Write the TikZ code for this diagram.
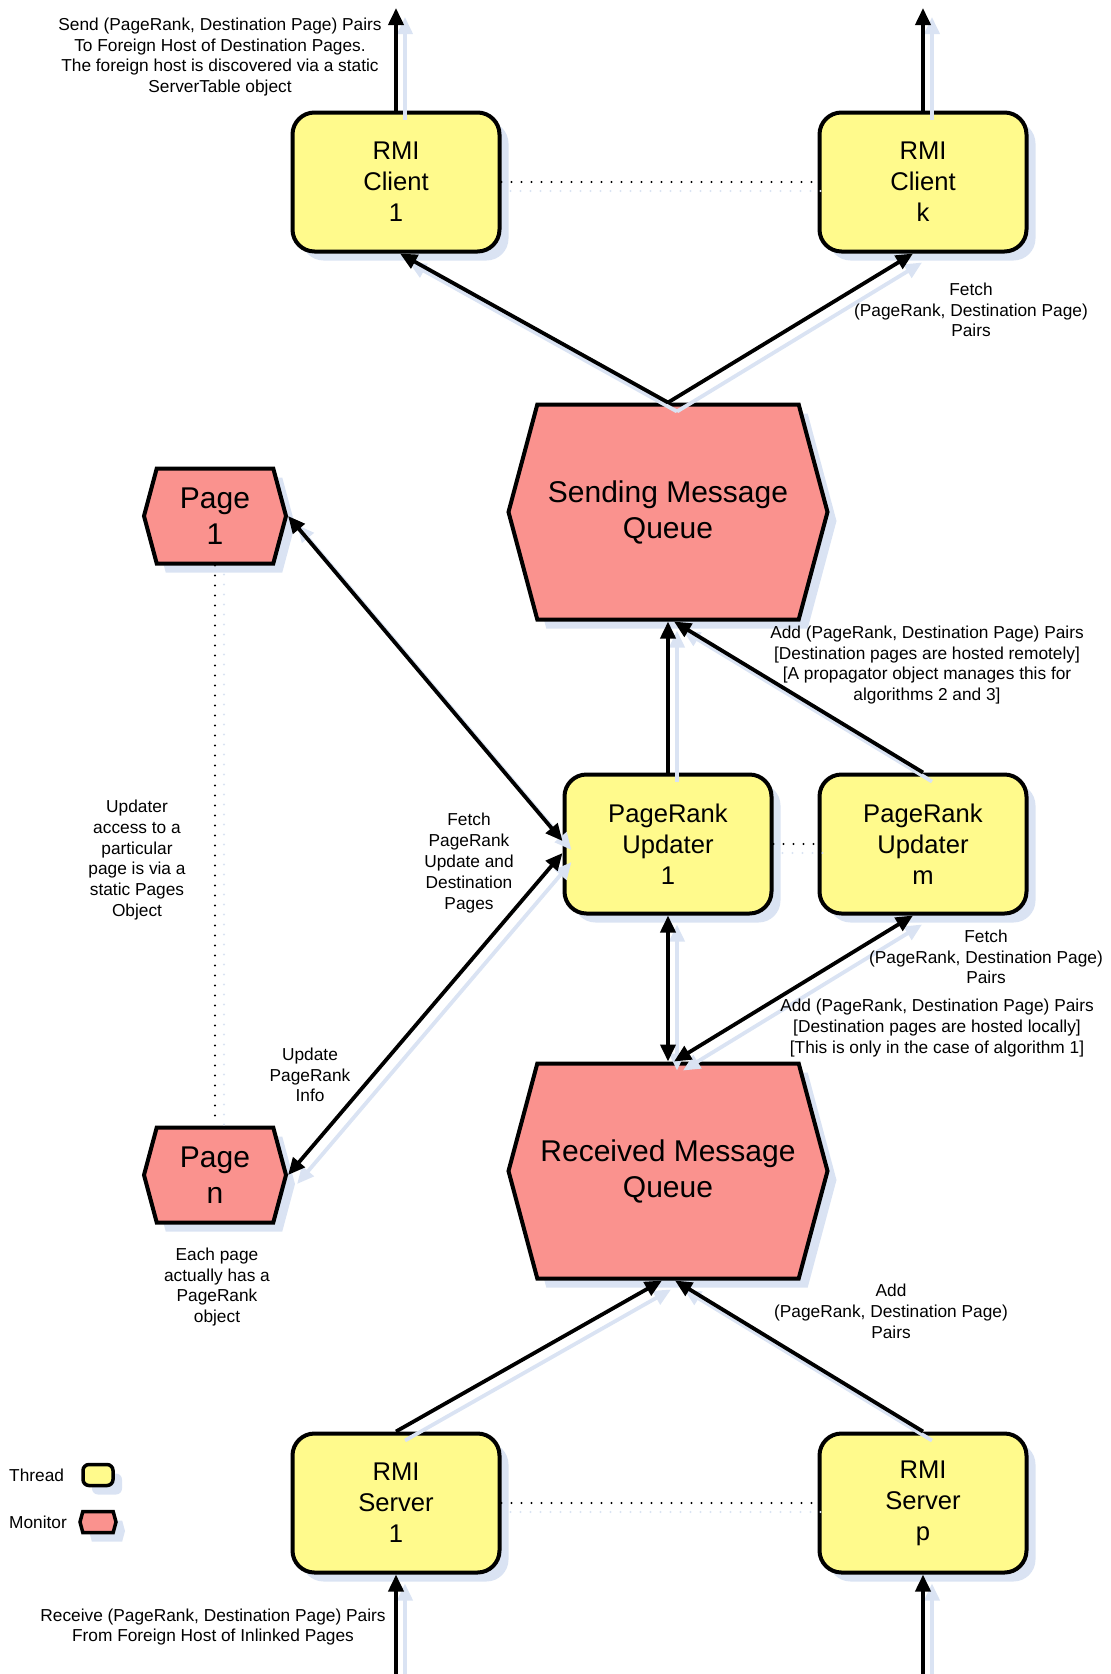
\documentclass[tikz,border=0pt]{standalone}
\usepackage{fontspec}
\setmainfont{Liberation Sans}
\usepackage{tikz}
\usetikzlibrary{positioning,shapes.symbols,shadows,arrows.meta}

\definecolor{threadfill}{RGB}{255,250,140}
\definecolor{monitorfill}{RGB}{250,146,142}
\definecolor{shadowblue}{RGB}{218,227,243}

\newcommand{\lblfont}{\fontsize{17.3}{20.8}\selectfont}
\newcommand{\boxfont}{\fontsize{25.6}{31}\selectfont}
\newcommand{\queuefont}{\fontsize{30}{36}\selectfont}

\tikzset{
    shadowed/.style={drop shadow={shadow xshift=9pt, shadow yshift=-9pt, fill=shadowblue, opacity=1}},
    thread/.style={draw, line width=4pt, rounded corners=22pt, fill=threadfill, shadowed,
        minimum width=207pt, minimum height=139pt, align=center, font=\boxfont},
    monitor/.style={signal, signal to=east and west, signal pointer angle=150, draw,
        line width=4pt, fill=monitorfill, shadowed, align=center, inner sep=3pt},
    queue/.style={monitor, minimum width=319pt, minimum height=215pt, font=\queuefont},
    pagebox/.style={monitor, minimum width=142pt, minimum height=95pt, font=\queuefont},
    note/.style={font=\lblfont, align=center, inner sep=0pt},
    flow/.style={line width=3.8pt, >={Triangle[length=17pt,width=15pt]}, #1,
        preaction={draw=shadowblue, line width=3.8pt, #1, transform canvas={xshift=9pt,yshift=-9pt}}},
    flow/.default={->},
    link/.style={line width=2.2pt, line cap=round, dash pattern=on 0pt off 10pt,
        preaction={draw=shadowblue, line width=2.2pt, line cap=round, dash pattern=on 0pt off 10pt,
            transform canvas={xshift=9pt,yshift=-9pt}}}
}

\begin{document}
\begin{tikzpicture}[x=1pt, y=-1pt]
    \useasboundingbox (0,0) rectangle (1111,1674);

    % threads and monitors
    \node[thread] (client1) at (396,182) {RMI\\Client\\1};
    \node[thread, right=316pt of client1] (clientk) {RMI\\Client\\k};
    \node[queue] (smq) at (668,512) {Sending Message\\Queue};
    \node[pagebox] (page1) at (215,516) {Page\\1};
    \node[pagebox] (pagen) at (215,1175) {Page\\n};
    \node[thread] (upd1) at (668,844) {PageRank\\Updater\\1};
    \node[thread, right=44pt of upd1] (updm) {PageRank\\Updater\\m};
    \node[queue] (rmq) at (668,1171) {Received Message\\Queue};
    \node[thread] (server1) at (396,1503) {RMI\\Server\\1};
    \node[thread, right=316pt of server1] (serverp) {RMI\\Server\\p};

    \coordinate (out1) at (client1.north |- 0,8);
    \coordinate (outk) at (clientk.north |- 0,8);
    \coordinate (in1) at (server1.south |- 0,1674);
    \coordinate (inp) at (serverp.south |- 0,1674);

    % dotted groupings
    \draw[link] (client1.east) -- (clientk.west);
    \draw[link] (upd1.east) -- (updm.west);
    \draw[link] (server1.east) -- (serverp.west);
    \draw[link] (page1.south) -- (pagen.north);

    % message flow
    \draw[flow] (client1.north) -- (out1);
    \draw[flow] (clientk.north) -- (outk);
    \draw[flow] (smq.north) -- ([xshift=4pt]client1.south);
    \draw[flow] (smq.north) -- ([xshift=-10pt]clientk.south);
    \draw[flow] (upd1.north) -- (smq.south);
    \draw[flow] (updm.north) -- ([xshift=6pt]smq.south);
    \draw[flow=<->] (page1.east) -- ([yshift=3pt]upd1.west);
    \draw[flow=<->] (pagen.east) -- ([yshift=-9pt]upd1.west);
    \draw[flow=<->] (upd1.south) -- (rmq.north);
    \draw[flow=<->] ([xshift=-10pt]updm.south) -- ([xshift=6pt]rmq.north);
    \draw[flow] (server1.north) -- ([xshift=-6pt]rmq.south);
    \draw[flow] (serverp.north) -- ([xshift=7pt]rmq.south);
    \draw[flow] (in1) -- (server1.south);
    \draw[flow] (inp) -- (serverp.south);

    % notes
    \node[note] (sendlbl) at (220,57) {Send (PageRank, Destination Page) Pairs\\To Foreign Host of Destination Pages.\\The foreign host is discovered via a static\\ServerTable object};
    \node[note] (fetchk) at (971,310) {Fetch\\(PageRank, Destination Page)\\Pairs};
    \node[note] (addremote) at (927,665) {Add (PageRank, Destination Page) Pairs\\{[Destination pages are hosted remotely]}\\{[A propagator object manages this for}\\algorithms 2 and 3]};
    \node[note] (fetchupd) at (469,863) {Fetch\\PageRank\\Update and\\Destination\\Pages};
    \node[note] (access) at (137,860) {Updater\\access to a\\particular\\page is via a\\static Pages\\Object};
    \node[note] (updinfo) at (310,1075) {Update\\PageRank\\Info};
    \node[note] (fetchm) at (986,957) {Fetch\\(PageRank, Destination Page)\\Pairs};
    \node[note] (addlocal) at (937,1028) {Add (PageRank, Destination Page) Pairs\\{[Destination pages are hosted locally]}\\{[This is only in the case of algorithm 1]}};
    \node[note] (eachpage) at (217,1287) {Each page\\actually has a\\PageRank\\object};
    \node[note] (addrmq) at (891,1311) {Add\\(PageRank, Destination Page)\\Pairs};
    \node[note] (receive) at (213,1627) {Receive (PageRank, Destination Page) Pairs\\From Foreign Host of Inlinked Pages};

    % legend
    \node[note, anchor=west] (threadlbl) at (9,1475) {Thread};
    \node[thread, minimum width=30pt, minimum height=21pt, rounded corners=6pt, line width=3.5pt] (threadkey) at (98,1475) {};
    \node[note, anchor=west] (monitorlbl) at (9,1522) {Monitor};
    \node[monitor, minimum width=36pt, minimum height=21pt, line width=3.5pt, inner sep=0pt] (monitorkey) at (98,1522) {};
\end{tikzpicture}
\end{document}
